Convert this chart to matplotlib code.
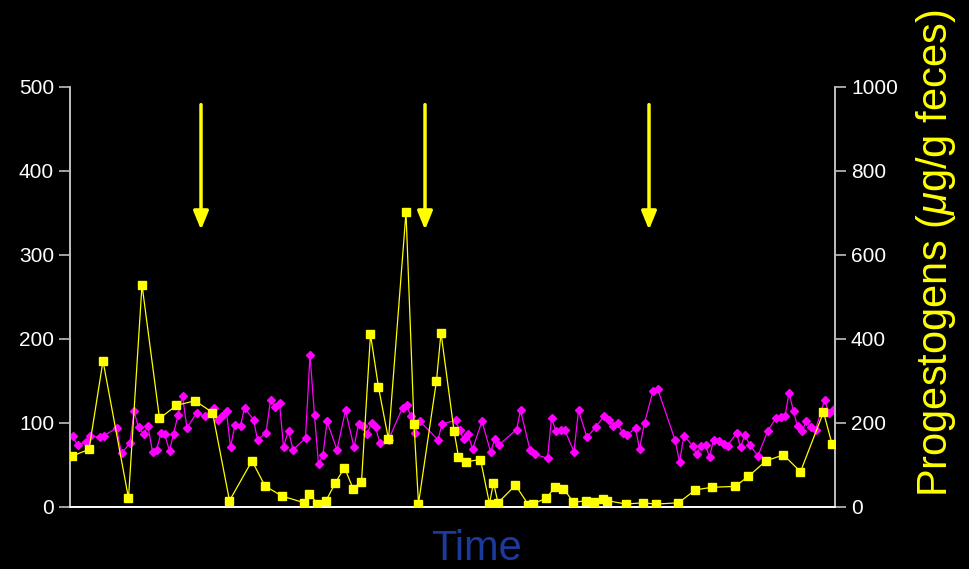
import matplotlib
matplotlib.use("Agg")
import matplotlib.pyplot as plt

plt.rcParams['font.family'] = ['Liberation Sans', 'DejaVu Sans']
plt.rcParams['mathtext.fontset'] = 'custom'
plt.rcParams['mathtext.it'] = 'Liberation Sans:italic'
plt.rcParams['mathtext.rm'] = 'Liberation Sans'

# magenta series (left axis): time, value
mag_t = [0.5, 1.5, 3.1, 4.0, 5.9, 6.8, 9.3, 10.3, 12.0, 12.8, 13.7, 14.7, 15.6, 16.5, 17.3,
         18.2, 18.9, 19.9, 20.7, 21.6, 22.5, 23.4, 25.3, 27.0, 28.7, 29.5, 30.3, 31.3, 32.1,
         33.0, 34.1, 34.9, 36.7, 37.5, 39.2, 40.1, 41.0, 41.9, 42.7, 43.7, 44.6, 47.1, 48.0,
         48.9, 49.7, 50.6, 51.4, 53.4, 55.1, 56.8, 57.7, 58.5, 59.4, 60.3, 61.1, 62.0, 63.7,
         66.5, 67.3, 68.2, 69.0, 70.0, 73.6, 74.4, 77.1, 77.9, 78.7, 79.6, 80.5, 82.4, 84.1,
         85.0, 85.8, 89.3, 90.1, 92.0, 92.9, 95.5, 96.3, 97.2, 98.1, 98.9, 100.8, 101.7, 103.4,
         105.1, 106.8, 107.7, 108.6, 109.5, 110.5, 111.4, 113.1, 113.9, 114.9, 116.6, 117.5,
         121.0, 121.9, 122.8, 124.5, 125.3, 126.2, 127.1, 127.9, 128.7, 129.7, 130.7, 131.5,
         133.3, 134.1, 135.0, 135.9, 137.6, 139.5, 141.2, 142.1, 143.0, 143.8, 144.7, 145.5,
         146.4, 147.2, 148.1, 149.1, 150.9, 151.8, 152.7]
mag_v = [84, 74, 77, 85, 83, 85, 94, 64, 76, 114, 95, 87, 96, 66, 68,
         88, 87, 67, 87, 110, 132, 94, 112, 108, 118, 104, 108, 114, 71,
         98, 97, 118, 104, 80, 88, 127, 119, 124, 72, 91, 68, 82, 181,
         109, 51, 62, 102, 68, 115, 71, 99, 96, 87, 100, 95, 76, 80,
         118, 121, 108, 88, 102, 80, 99, 103, 92, 81, 87, 69, 102, 66,
         81, 74, 92, 115, 68, 63, 58, 106, 90, 92, 92, 66, 115, 83,
         95, 108, 104, 97, 100, 88, 86, 94, 69, 100, 138, 141,
         80, 54, 85, 73, 63, 73, 74, 59, 80, 78, 75, 73,
         88, 71, 86, 74, 61, 90, 106, 107, 108, 136, 114, 96,
         90, 102, 95, 92, 127, 112, 117]

# progestogens (right axis, ug/g feces)
prog_t = [0.3, 3.8, 6.6, 11.7, 14.4, 17.9, 21.3, 25.0, 28.5, 31.9, 36.4, 39.0, 42.4, 46.9,
          47.8, 49.5, 51.2, 53.1, 54.9, 56.6, 58.3, 60.1, 61.7, 63.7, 67.2, 68.8, 69.7, 73.3,
          74.2, 76.8, 77.7, 79.3, 82.1, 83.9, 84.7, 85.6, 89.1, 91.7, 92.7, 95.3, 97.0, 98.7,
          100.7, 103.2, 104.9, 106.6, 107.5, 111.2, 114.6, 117.2, 121.7, 125.1, 128.5, 133.0,
          135.7, 139.2, 142.7, 146.1, 150.7, 152.4]
prog_v = [121, 137, 348, 21, 529, 211, 242, 253, 225, 15, 110, 50, 26, 10,
          32, 8, 15, 58, 94, 44, 60, 411, 285, 161, 702, 198, 8, 301,
          415, 182, 119, 108, 113, 8, 58, 10, 52, 5, 8, 21, 48, 44,
          11, 15, 13, 19, 15, 7, 10, 7, 10, 41, 47, 49,
          73, 110, 124, 84, 226, 150]

arrow_t = [26.2, 71.0, 115.8]

fig = plt.figure(figsize=(9.69, 5.69), dpi=100, facecolor='black')
ax = fig.add_axes([70/969, 1-507/569, 765/969, 420/569])
ax.set_facecolor('black')
ax2 = ax.twinx()

ax.plot(mag_t, mag_v, color='#ff00ff', marker='D', ms=4.5, lw=0.9, zorder=3)
ax2.plot(prog_t, prog_v, color='#ffff00', marker='s', ms=5.5, lw=0.9, zorder=3)

ax.set_xlim(0, 153)
ax.set_ylim(0, 500)
ax2.set_ylim(0, 1000)
ax.set_yticks([0, 100, 200, 300, 400, 500])
ax2.set_yticks([0, 200, 400, 600, 800, 1000])
ax.set_xticks([])

for a in (ax, ax2):
    for s in a.spines.values():
        s.set_color('#c0c0c0')
        s.set_linewidth(1.2)
    a.spines['top'].set_visible(False)
    a.spines['bottom'].set_color('white')
    a.tick_params(colors='#c0c0c0', labelcolor='white', labelsize=15, length=8, width=1.2)
    a.patch.set_alpha(0)

for t in arrow_t:
    ax.annotate('', xy=(t, 330), xytext=(t, 479),
                arrowprops=dict(arrowstyle='-|>,head_width=0.45,head_length=1.1',
                                color='#ffff00', lw=2.5, shrinkA=0, shrinkB=0))

fig.text(476/969, 1-549/569, 'Time', color='#1c3a9c', fontsize=30,
         ha='center', va='center')
fig.text(936/969, 1-253/569, r'Progestogens ($\mu$g/g feces)', color='#ffff00', fontsize=30,
         ha='center', va='center', rotation=90)

fig.savefig('out.png', dpi=100, facecolor='black')
